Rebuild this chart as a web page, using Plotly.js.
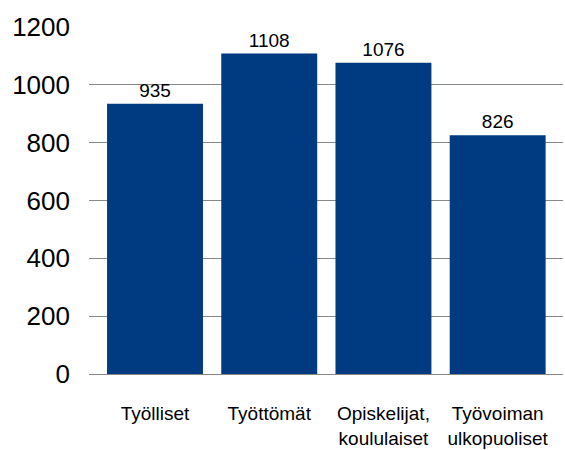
<!DOCTYPE html>
<html>
<head>
<meta charset="utf-8">
<script src="https://cdn.plot.ly/plotly-3.0.1.min.js"></script>
<style>html,body{margin:0;padding:0;background:#fff;}#chart{width:565px;height:450px;}</style>
</head>
<body>
<div id="chart"></div>
<script>
const categories = ["Työlliset", "Työttömät", "Opiskelijat,<br>koululaiset", "Työvoiman<br>ulkopuoliset"];
const values = [935, 1108, 1076, 826];
const yTicks = [0, 200, 400, 600, 800, 1000, 1200];

const trace = {
  type: "bar",
  x: categories,
  y: values,
  text: values.map(String),
  textposition: "outside",
  cliponaxis: false,
  textfont: {family: "Liberation Sans, Arial, sans-serif", size: 19, color: "#000"},
  marker: {color: "#003A80"},
  hoverinfo: "none"
};

const layout = {
  width: 565, height: 450,
  margin: {l: 89, r: 2, t: 27, b: 76},
  paper_bgcolor: "#fff", plot_bgcolor: "#fff",
  showlegend: false,
  bargap: 0.16,
  font: {family: "Liberation Sans, Arial, sans-serif", color: "#000"},
  xaxis: {
    type: "category",
    range: [-0.578, 3.572],
    showgrid: false, showline: false, zeroline: false,
    ticks: "",
    tickfont: {size: 19},
    ticklabelstandoff: 26
  },
  yaxis: {
    range: [0, 1200],
    tickvals: yTicks,
    ticktext: yTicks.map(String),
    showgrid: true, gridcolor: "#888", gridwidth: 1,
    zeroline: true, zerolinecolor: "#888", zerolinewidth: 1,
    showline: false, ticks: "",
    tickfont: {size: 26},
    ticklabelstandoff: 18
  }
};

Plotly.newPlot("chart", [trace], layout, {staticPlot: true, displayModeBar: false});
</script>
</body>
</html>
